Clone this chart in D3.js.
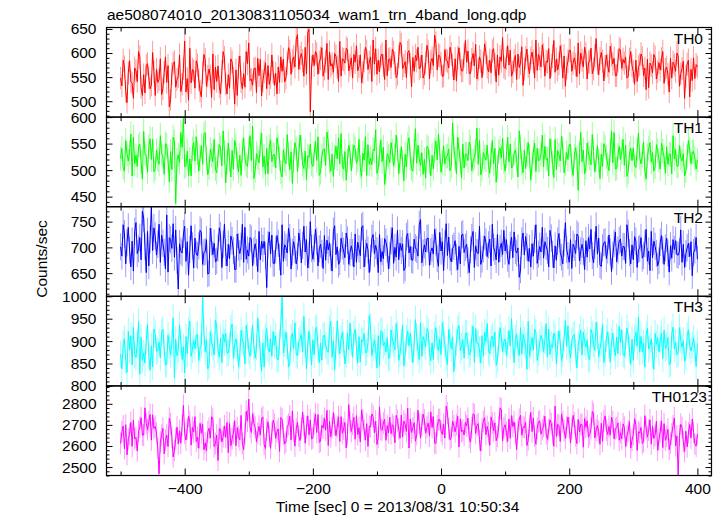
<!DOCTYPE html>
<html>
<head>
<meta charset="utf-8">
<script src="https://cdn.jsdelivr.net/npm/d3@7"></script>
<style>
  html, body { margin: 0; padding: 0; background: #fff; }
  svg { display: block; font-family: "Liberation Sans", Arial, Helvetica, sans-serif; }
</style>
</head>
<body>
<svg id="chart" width="724" height="516"></svg>
<script>
// ---------------- data ----------------
const chartTitle = "ae508074010_20130831105034_wam1_trn_4band_long.qdp";
const xTitle = "Time [sec] 0 = 2013/08/31 10:50:34";
const yTitle = "Counts/sec";
const categories = ["TH0", "TH1", "TH2", "TH3", "TH0123"];
const timeStart = -500, timeStop = 400, binSec = 1;

const th0 = [
548,532,585,571,520,497,559,584,541,537,506,569,563,541,603,592,528,512,555,517,574,578,549,526,533,601,561,512,566,539,
545,588,514,526,560,592,539,574,488,503,557,578,582,529,545,551,596,520,535,568,625,519,547,502,610,538,566,563,527,584,
575,544,521,509,559,597,586,531,552,567,552,508,598,524,571,541,573,530,515,562,603,590,536,515,555,527,588,581,548,494,
565,512,570,594,540,526,557,529,603,578,621,543,546,533,567,569,518,589,553,587,511,542,561,580,526,574,535,549,596,560,
533,558,515,571,539,592,562,587,540,548,579,611,603,556,584,592,571,628,638,566,590,599,584,552,612,557,643,649,478,571,
596,574,603,598,556,581,589,611,552,567,583,620,545,602,573,578,560,599,593,571,541,624,552,588,586,579,610,607,563,575,
590,548,597,581,615,563,572,596,538,559,584,612,603,566,581,592,541,627,577,609,556,585,561,593,598,574,545,627,553,586,
588,570,608,601,579,549,556,593,622,617,568,574,582,549,601,605,576,530,591,562,595,584,612,567,571,596,548,557,580,616,
603,546,582,589,574,637,620,565,596,594,578,551,553,607,585,583,569,612,598,575,544,588,542,590,611,577,563,563,595,626,
581,604,557,558,586,599,573,618,546,566,592,583,549,579,619,601,571,561,585,559,604,609,576,540,596,554,592,583,632,571,
568,589,615,575,606,552,561,584,595,545,598,570,579,613,533,566,590,608,572,557,589,602,583,548,627,564,597,588,571,617,
596,552,583,581,609,547,574,593,626,560,587,565,578,615,594,548,594,531,569,583,606,605,562,579,590,576,551,621,557,600,
585,571,612,598,546,581,582,610,557,567,594,630,579,555,588,601,583,542,572,596,574,560,614,596,577,589,553,553,584,609,
606,568,587,579,592,548,551,587,603,574,562,535,585,541,572,576,598,590,553,569,524,587,528,579,574,559,597,591,546,561,
580,565,588,603,537,566,571,556,519,589,548,581,575,562,600,594,531,557,568,583,506,552,577,585,509,566,543,590,547,576,571
];
const th1 = [
522,541,505,498,556,531,517,533,568,489,562,512,528,507,545,549,515,483,573,531,526,496,544,559,520,558,497,503,537,520,
511,565,531,526,492,550,547,519,478,535,501,562,553,437,519,529,514,571,543,598,506,508,536,489,521,489,540,552,517,563,
532,498,523,546,511,567,571,523,491,504,539,528,516,558,502,495,527,548,542,508,574,534,476,515,551,519,487,537,502,556,
545,513,497,528,490,536,561,522,510,507,539,565,518,583,484,499,531,523,514,548,570,506,526,492,541,493,544,557,516,529,
529,504,561,546,521,496,487,538,519,512,567,530,501,534,475,519,552,541,497,528,566,543,511,503,536,482,527,524,549,512,
507,531,554,518,563,490,495,527,539,540,509,572,553,516,498,530,488,525,545,521,561,512,569,507,502,535,481,518,547,533,
499,526,547,541,513,520,558,505,488,532,519,563,490,548,511,523,510,539,537,576,494,504,529,557,516,543,473,497,531,526,
514,552,536,508,527,566,539,493,517,544,517,480,530,506,549,561,522,503,498,536,578,513,547,521,509,533,492,520,485,545,
541,515,489,528,502,537,555,519,568,534,496,514,546,512,526,527,540,499,507,589,543,521,493,562,538,516,485,549,504,530,
530,518,553,543,499,517,524,537,579,511,556,491,502,533,524,519,547,508,494,528,556,512,541,477,506,535,542,523,560,515,
498,527,562,515,549,504,508,532,538,520,487,574,544,513,495,538,503,529,552,526,481,511,534,551,497,541,518,519,530,566,
506,545,520,522,489,559,536,514,486,558,501,537,529,517,564,540,495,512,533,520,548,548,509,490,527,542,523,462,531,571,
516,538,493,504,551,532,523,510,567,535,497,519,546,518,484,530,507,550,543,525,511,499,537,573,514,571,502,503,528,545,
520,534,558,509,547,488,496,531,541,518,542,509,505,539,570,524,512,527,553,500,483,527,541,552,515,533,498,506,548,536,
519,502,551,536,525,494,544,511,530,530,493,565,521,539,507,508,546,523,517,531,489,498,527,556,540,512,534,535,523,502,519
];
const th2 = [
701,683,744,726,668,709,739,695,662,712,654,731,748,688,697,719,676,770,757,702,651,731,664,716,779,694,738,722,685,706,
745,671,724,708,690,658,763,652,719,715,698,746,681,734,675,619,707,693,689,726,741,673,711,646,696,742,703,660,718,687,
684,703,733,729,667,690,692,715,648,650,737,711,686,708,672,674,699,738,723,661,706,745,690,664,706,678,722,713,694,657,
657,726,701,688,702,745,671,739,677,695,683,719,716,664,693,707,690,653,731,676,712,698,712,684,622,705,730,687,724,669,
669,695,723,708,681,646,744,673,705,700,689,737,719,658,691,711,696,668,682,728,709,670,704,741,691,715,660,685,750,698,
677,699,735,712,664,697,706,688,659,723,675,714,695,709,681,654,731,742,686,701,667,672,718,703,693,680,728,714,667,690,
703,690,662,726,671,710,697,684,739,742,662,689,708,695,651,679,717,725,688,704,693,651,725,672,692,678,717,710,697,658,
684,713,738,669,700,681,733,676,708,694,707,655,660,721,727,689,702,676,675,716,699,696,683,744,754,670,689,705,691,717,
718,665,692,699,687,735,711,678,663,729,693,711,655,707,746,684,720,680,672,698,702,713,681,657,702,668,724,726,690,700,
706,674,651,695,719,731,661,703,690,688,741,667,677,697,722,710,682,705,716,664,745,700,692,676,725,671,698,708,686,733,
693,715,679,667,704,720,680,730,694,689,699,642,656,712,728,685,721,701,673,698,662,707,683,716,744,669,687,702,691,739,
679,711,702,694,662,733,718,687,660,703,675,712,727,690,681,668,709,748,696,684,671,715,659,706,700,688,726,722,674,693,
706,692,657,713,681,719,697,735,684,670,704,741,687,718,666,663,699,709,711,678,695,724,691,653,685,708,730,672,695,713,
716,683,702,701,669,744,727,690,668,705,676,721,712,661,696,698,719,679,684,707,735,673,693,655,731,680,712,702,688,664,
674,710,723,695,667,699,718,689,652,703,679,715,696,713,686,685,692,734,671,706,661,688,699,708,682,711,645,690,695,719,677
];
const th3 = [
871,838,894,905,856,830,922,880,912,847,931,869,864,893,943,826,909,857,873,851,901,937,868,835,889,842,927,915,877,880,
898,862,919,926,884,846,849,913,890,870,895,952,818,904,867,881,936,898,859,887,829,910,872,924,945,866,881,901,883,913,
915,857,885,892,1000,921,876,903,838,845,921,897,888,869,947,933,880,864,907,852,916,897,918,873,874,890,928,938,861,893,
905,884,843,867,924,902,893,849,935,911,878,866,899,936,887,862,887,951,915,871,833,896,842,909,928,883,876,905,866,921,
891,912,860,858,897,938,1000,874,895,920,889,842,851,908,917,883,941,871,867,899,904,915,876,955,893,838,889,922,886,847,
903,869,926,931,884,852,896,857,911,913,890,878,875,927,944,864,901,836,887,945,899,872,905,919,892,849,868,918,881,940,
897,864,915,926,888,851,910,853,903,899,917,874,875,894,957,932,868,886,903,885,840,912,846,923,921,890,897,876,908,861,
863,925,904,894,880,939,914,857,872,898,936,845,871,906,922,889,918,883,852,895,948,910,877,859,941,866,910,902,887,928,
921,874,856,896,859,913,930,888,879,905,870,941,915,892,864,848,926,900,883,909,832,867,897,926,935,879,888,903,862,917,
918,890,869,874,907,934,853,928,895,895,881,851,912,866,920,899,939,877,872,904,911,887,920,846,859,893,930,911,876,899,
905,868,892,924,889,950,897,852,906,916,883,868,930,871,915,902,890,837,944,865,889,908,880,927,919,857,874,896,913,903,
877,901,939,864,927,870,892,885,918,910,849,893,923,896,855,871,906,946,888,934,881,862,899,912,915,876,840,891,908,925,
869,920,897,887,903,861,858,926,915,894,879,942,912,865,883,900,937,852,873,906,921,891,853,899,918,884,867,909,872,933,
897,925,871,866,890,929,913,880,848,904,857,906,921,888,953,875,911,876,896,842,914,928,882,890,905,869,837,917,893,908,
876,902,918,861,924,883,889,908,847,850,915,931,883,897,870,872,930,902,886,901,855,865,912,925,890,878,891,906,884,843,895
];
const th0123 = [
2612,2668,2695,2587,2701,2558,2634,2655,2712,2598,2723,2633,2641,2576,2670,2689,2734,2651,2652,2781,2706,2677,2715,2749,2628,2748,2683,2693,2662,2590,
2468,2619,2651,2684,2563,2627,2652,2597,2731,2706,2641,2548,2578,2633,2690,2610,2672,2613,2697,2792,2659,2628,2681,2742,2715,2604,2688,2667,2739,2621,
2642,2589,2707,2661,2703,2582,2615,2577,2666,2684,2638,2739,2726,2597,2612,2652,2531,2683,2678,2619,2644,2695,2641,2712,2568,2707,2601,2634,2662,2720,
2601,2687,2645,2629,2745,2612,2583,2656,2764,2718,2822,2689,2664,2753,2706,2689,2621,2660,2694,2652,2731,2738,2607,2587,2678,2715,2648,2589,2663,2722,
2702,2636,2668,2681,2574,2735,2727,2655,2610,2619,2693,2703,2741,2628,2766,2670,2599,2681,2712,2647,2626,2685,2761,2697,2613,2689,2743,2652,2724,2634,
2638,2706,2752,2664,2749,2617,2623,2698,2685,2731,2675,2769,2602,2717,2644,2686,2758,2702,2649,2693,2738,2621,2739,2660,2680,2712,2591,2655,2796,2711,
2669,2703,2736,2632,2744,2654,2687,2619,2771,2725,2678,2628,2706,2598,2694,2691,2752,2740,2663,2718,2607,2641,2784,2679,2675,2709,2726,2627,2697,2662,
2736,2658,2701,2693,2615,2745,2720,2681,2637,2747,2642,2718,2702,2669,2779,2590,2728,2664,2685,2711,2623,2654,2770,2706,2637,2698,2751,2723,2661,2690,
2709,2647,2762,2688,2739,2615,2612,2695,2724,2726,2671,2655,2704,2638,2789,2756,2683,2630,2642,2718,2696,2667,2701,2741,2595,2729,2668,2676,2652,2713,
2695,2732,2640,2618,2687,2753,2748,2660,2699,2706,2629,2576,2681,2717,2735,2654,2693,2664,2603,2738,2709,2672,2710,2625,2646,2689,2781,2775,2624,2686,
2701,2665,2622,2728,2637,2744,2692,2714,2659,2583,2679,2726,2746,2651,2690,2688,2712,2602,2629,2697,2760,2668,2733,2647,2608,2684,2715,2719,2656,2678,
2693,2741,2658,2632,2677,2724,2706,2660,2599,2789,2645,2702,2698,2621,2752,2714,2673,2636,2690,2737,2687,2614,2682,2745,2709,2648,2611,2726,2667,2703,
2701,2594,2730,2689,2720,2642,2655,2683,2764,2752,2638,2675,2697,2669,2608,2708,2622,2719,2743,2676,2654,2693,2651,2737,2715,2634,2680,2687,2710,2627,
2663,2633,2705,2689,2598,2647,2671,2715,2590,2627,2654,2729,2702,2579,2668,2661,2688,2612,2620,2744,2683,2642,2675,2724,2609,2693,2636,2651,2717,2580,
2630,2668,2719,2592,2706,2627,2645,2679,2583,2614,2657,2696,2733,2601,2648,2462,2649,2703,2688,2621,2574,2670,2596,2662,2702,2638,2728,2664,2611,2599,2657
];
const seriesValues = [th0, th1, th2, th3, th0123];
const seriesColors = ["#ff0000", "#00ff00", "#0000ff", "#00ffff", "#ff00ff"];
const yDomains = [[467, 653], [431, 600], [605, 779], [800, 1000], [2460, 2885]];
const yTickLabels = [[500, 550, 600, 650], [450, 500, 550, 600], [650, 700, 750], [800, 850, 900, 950, 1000], [2500, 2600, 2700, 2800]];
const yMinorSteps = [10, 10, 10, 10, 20];
const xDomain = [-522, 422];
const xTickLabels = [-400, -200, 0, 200, 400];
const xMinorTicks = [-500, -300, -100, 100, 300];

// ---------------- layout ----------------
const svg = d3.select("#chart");
const plotL = 106.5, plotR = 711.5, plotT = 27.5, plotB = 475.5;
const nP = categories.length;
const ph = (plotB - plotT) / nP;
const FS = "15.5px";

const x = d3.scaleLinear().domain(xDomain).range([plotL, plotR]);
const fmtX = d => (d < 0 ? "\u2212" + Math.abs(d) : String(d));

svg.append("text")
  .attr("x", 107).attr("y", 20)
  .attr("font-size", FS).attr("fill", "#000")
  .text(chartTitle);

const defs = svg.append("defs");

categories.forEach((name, p) => {
  const y0 = plotT + p * ph, y1 = y0 + ph;
  const y = d3.scaleLinear().domain(yDomains[p]).range([y1, y0]);
  const vals = seriesValues[p];
  const n = vals.length;
  const data = vals.map((v, i) => ({
    t: timeStart + i * (timeStop - timeStart) / (n - 1),
    v: v,
    e: Math.sqrt(v / binSec)
  }));

  defs.append("clipPath").attr("id", "clip" + p)
    .append("rect").attr("x", plotL).attr("y", y0).attr("width", plotR - plotL).attr("height", ph);

  const g = svg.append("g").attr("clip-path", "url(#clip" + p + ")");
  g.selectAll("line.err").data(data).join("line")
    .attr("class", "err")
    .attr("x1", d => x(d.t)).attr("x2", d => x(d.t))
    .attr("y1", d => y(d.v - d.e)).attr("y2", d => y(d.v + d.e))
    .attr("stroke", seriesColors[p]).attr("stroke-opacity", 0.4).attr("stroke-width", 1);
  g.append("path").datum(data)
    .attr("fill", "none").attr("stroke", seriesColors[p]).attr("stroke-width", 1)
    .attr("d", d3.line().x(d => x(d.t)).y(d => y(d.v)));

  const minor = d3.range(Math.ceil(yDomains[p][0] / yMinorSteps[p]) * yMinorSteps[p], yDomains[p][1] + 0.001, yMinorSteps[p])
    .filter(v => yTickLabels[p].indexOf(v) < 0);
  const ax = [];
  ax.push(svg.append("g").attr("transform", `translate(${plotL},0)`)
    .call(d3.axisLeft(y).tickValues(yTickLabels[p]).tickSize(-6).tickPadding(10).tickFormat(d3.format("d"))));
  ax.push(svg.append("g").attr("transform", `translate(${plotL},0)`)
    .call(d3.axisLeft(y).tickValues(minor).tickSize(-3).tickFormat("")));
  ax.push(svg.append("g").attr("transform", `translate(${plotR},0)`)
    .call(d3.axisRight(y).tickValues(yTickLabels[p]).tickSize(-6).tickFormat("")));
  ax.push(svg.append("g").attr("transform", `translate(${plotR},0)`)
    .call(d3.axisRight(y).tickValues(minor).tickSize(-3).tickFormat("")));
  ax.push(svg.append("g").attr("transform", `translate(0,${y0})`)
    .call(d3.axisTop(x).tickValues(xTickLabels).tickSize(-7).tickFormat("")));
  ax.push(svg.append("g").attr("transform", `translate(0,${y0})`)
    .call(d3.axisTop(x).tickValues(xMinorTicks).tickSize(-4).tickFormat("")));
  const last = p === nP - 1;
  ax.push(svg.append("g").attr("transform", `translate(0,${y1})`)
    .call(d3.axisBottom(x).tickValues(xTickLabels).tickSize(-7).tickPadding(7)
      .tickFormat(last ? fmtX : "")));
  ax.push(svg.append("g").attr("transform", `translate(0,${y1})`)
    .call(d3.axisBottom(x).tickValues(xMinorTicks).tickSize(-4).tickFormat("")));
  ax.forEach(a => {
    a.select(".domain").remove();
    a.selectAll("line").attr("stroke", "#000").attr("stroke-width", 1);
    a.selectAll("text").attr("font-size", FS).attr("fill", "#000")
      .attr("font-family", "'Liberation Sans', Arial, sans-serif");
  });

  svg.append("rect").attr("x", plotL).attr("y", y0).attr("width", plotR - plotL).attr("height", ph)
    .attr("fill", "none").attr("stroke", "#000").attr("stroke-width", 1.2);

  svg.append("text")
    .attr("x", p === nP - 1 ? 707 : 703).attr("y", y0 + 16)
    .attr("text-anchor", "end").attr("font-size", FS).attr("fill", "#000")
    .text(name);
});

svg.append("text")
  .attr("x", 397.5).attr("y", 512)
  .attr("text-anchor", "middle").attr("font-size", FS).attr("fill", "#000")
  .text(xTitle);

svg.append("text")
  .attr("transform", "translate(47,259) rotate(-90)")
  .attr("text-anchor", "middle").attr("font-size", FS).attr("fill", "#000")
  .text(yTitle);
</script>
</body>
</html>
